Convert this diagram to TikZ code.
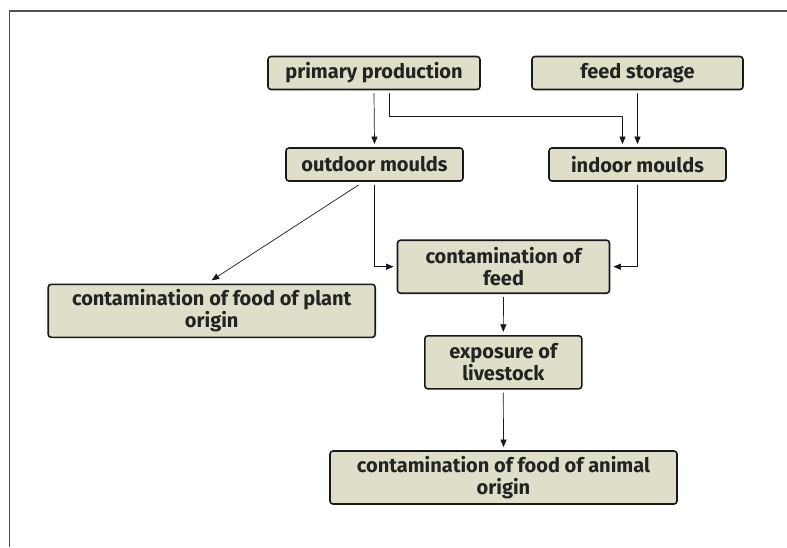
\documentclass[tikz,border=0pt]{standalone}
\usepackage{fontspec}
\setmainfont{Fira Sans}
\usepackage[usenames]{xcolor}
\usepackage{tikz}
\usetikzlibrary{arrows}
\definecolor{boxfill}{RGB}{223,223,201}
\definecolor{boxline}{RGB}{25,25,25}
\definecolor{boxtext}{RGB}{35,35,35}
\definecolor{framegray}{RGB}{80,80,80}
\tikzset{
  flowbox/.style={draw=boxline,fill=boxfill,line width=1.6pt,rounded corners=3pt,
    text=boxtext,font=\fontsize{20}{21.7}\selectfont\bfseries,align=center,
    inner sep=0pt,outer sep=4pt,minimum height=33},
  twoline/.style={minimum height=53},
  flow/.style={->,line width=0.7pt,draw=boxline}
}

\begin{document}
\begin{tikzpicture}[line cap=round,line join=round,>=triangle 45,x=1pt,y=-1pt]
\useasboundingbox (0,0) rectangle (787,547);
\draw[framegray,line width=1.5pt,line cap=butt] (787,11)-- (9.5,11)-- (9.5,547);

\node[flowbox,minimum width=212] (prim) at (374,73) {primary production};
\node[flowbox,minimum width=211] (store) at (637.5,73) {feed storage};
\node[flowbox,minimum width=177] (outd) at (374.5,164.5) {outdoor moulds};
\node[flowbox,minimum width=177] (ind) at (637.5,164.5) {indoor moulds};
\node[flowbox,twoline,minimum width=212] (feed) at (503.5,266.7) {contamination of\\feed};
\node[flowbox,twoline,minimum width=327] (plant) at (211.7,310.8) {contamination of food of plant\\origin};
\node[flowbox,twoline,minimum width=157] (expo) at (503.3,362.3) {exposure of\\livestock};
\node[flowbox,twoline,minimum width=347] (anim) at (503.5,477.5) {contamination of food of animal\\origin};

\draw[flow] (prim.south)-- (outd.north);
\draw[flow] ([xshift=15]prim.south)-- ++(0,23) -| ([xshift=-15]ind.north);
\draw[flow] (store.south)-- (ind.north);
\draw[flow] ([xshift=-16]outd.south)-- (plant.north);
\draw[flow] (outd.south) |- (feed.west);
\draw[flow] (ind.south) |- (feed.east);
\draw[flow] (feed.south)-- (expo.north);
\draw[flow] (expo.south)-- (anim.north);

\end{tikzpicture}
\end{document}
